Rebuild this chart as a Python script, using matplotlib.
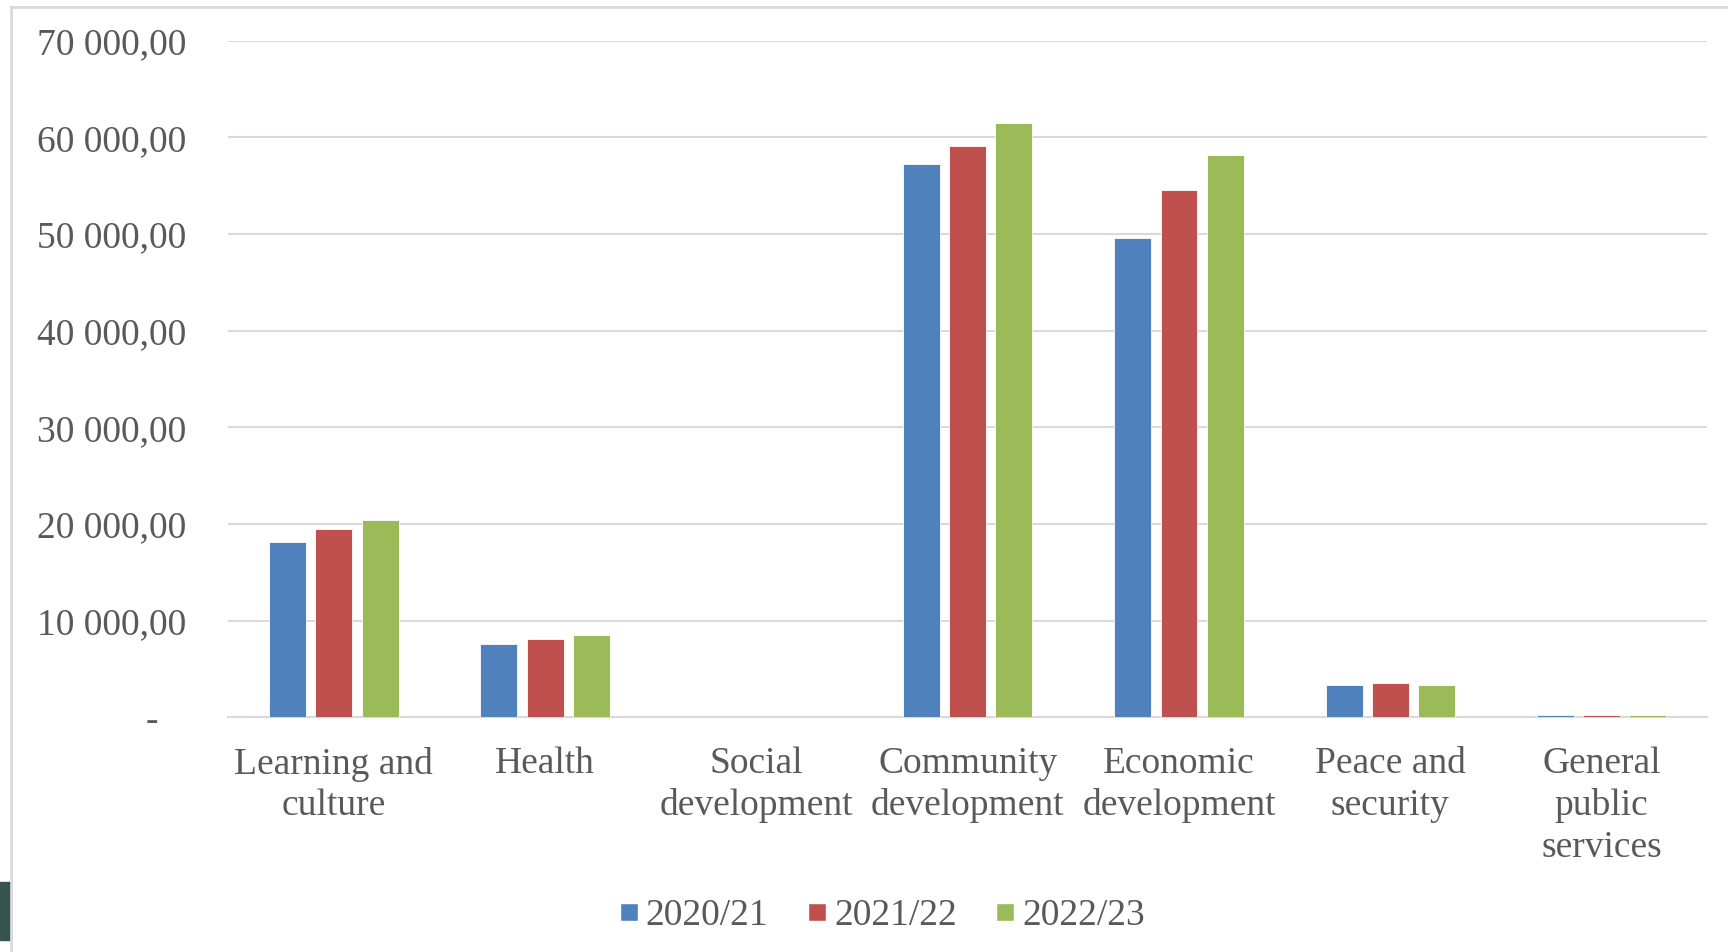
import numpy as np
import matplotlib
matplotlib.use("Agg")
import matplotlib.pyplot as plt
from matplotlib.lines import Line2D
from matplotlib.patches import Rectangle
from matplotlib.ticker import FuncFormatter, MultipleLocator

categories = ["Learning and\nculture", "Health", "Social\ndevelopment", "Community\ndevelopment",
              "Economic\ndevelopment", "Peace and\nsecurity", "General\npublic\nservices"]
years = ["2020/21", "2021/22", "2022/23"]
v_2020 = [18130, 7640, 0, 57230, 49600, 3310, 250]
v_2021 = [19500, 8100, 0, 59170, 54610, 3560, 270]
v_2022 = [20410, 8550, 0, 61450, 58150, 3350, 260]

COLORS = ["#4F81BD", "#C0504D", "#9BBB59"]
GRID = "#D9D9D9"
TEXT = "#595959"

plt.rcParams.update({"font.family": "Liberation Serif", "font.size": 27})

fig = plt.figure(figsize=(17.28, 9.52), dpi=100)
ax = fig.add_axes([0.132, 0.2464, 0.856, 0.7107])

x = np.arange(len(categories))
w = 0.175
step = 0.219
for i, (vals, c, lab) in enumerate(zip([v_2020, v_2021, v_2022], COLORS, years)):
    ax.bar(x + (i - 1) * step, vals, width=w, color=c, edgecolor="white", linewidth=0.6, label=lab, zorder=3)

ax.set_xlim(-0.5, len(categories) - 0.5)
ax.set_ylim(0, 70000)
ax.yaxis.set_major_locator(MultipleLocator(10000))


def fmt(v, pos):
    if v == 0:
        return "-   "
    return f"{v:,.2f}".replace(",", " ").replace(".", ",")


ax.yaxis.set_major_formatter(FuncFormatter(fmt))
ax.grid(axis="y", color=GRID, linewidth=1.5, zorder=0)
for s in ["top", "right", "left"]:
    ax.spines[s].set_visible(False)
ax.spines["bottom"].set_color(GRID)
ax.spines["bottom"].set_linewidth(1.5)
ax.tick_params(axis="both", length=0, colors=TEXT)
ax.tick_params(axis="y", pad=30)
ax.tick_params(axis="x", pad=21)
ax.set_xticks(x)
ax.set_xticklabels(categories, linespacing=1.27, va="top")

handles = [Line2D([0], [0], marker="s", color="w", markerfacecolor=c, markersize=13, label=l)
           for c, l in zip(COLORS, years)]
fig.legend(handles=handles, loc="center", bbox_to_anchor=(0.51, 0.038), ncol=3, frameon=False,
           handlelength=0.6, handletextpad=0.15, columnspacing=1.0, labelcolor=TEXT)

# outer frame and the tab on the left edge
fig.add_artist(Line2D([11 / 1728, 11 / 1728], [0, 1 - 7 / 952], color=GRID, linewidth=2, transform=fig.transFigure))
fig.add_artist(Line2D([11 / 1728, 1], [1 - 7 / 952, 1 - 7 / 952], color=GRID, linewidth=2, transform=fig.transFigure))
fig.add_artist(Rectangle((0, 1 - 940 / 952), 10 / 1728, 58 / 952, color="#35544F", transform=fig.transFigure))

fig.savefig("out.png", dpi=100)
